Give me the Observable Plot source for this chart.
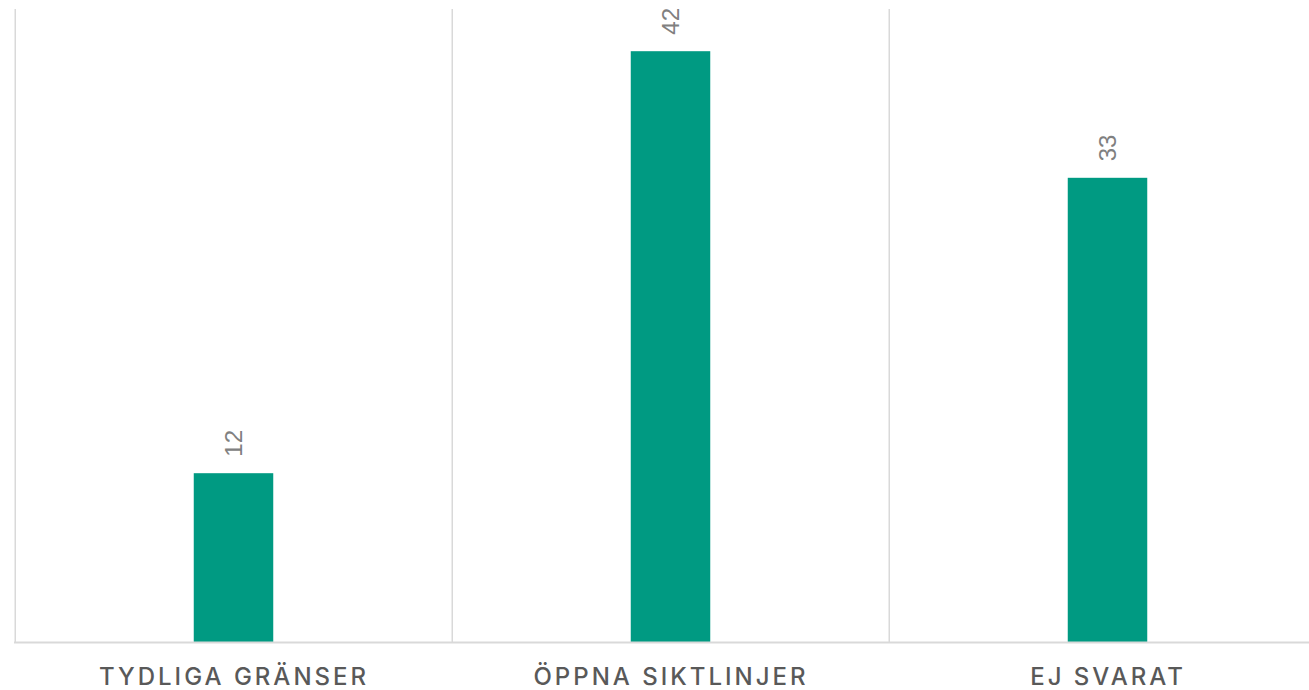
<!DOCTYPE html>
<html>
<head>
<meta charset="utf-8">
<script src="https://cdn.jsdelivr.net/npm/d3@7"></script>
<script src="https://cdn.jsdelivr.net/npm/@observablehq/plot@0.6"></script>
<style>
  html, body { margin: 0; padding: 0; background: #fff; overflow: hidden; }
  #chart svg { overflow: hidden; }
</style>
</head>
<body>
<div id="chart"></div>
<script>
const categories = ["TYDLIGA GRÄNSER", "ÖPPNA SIKTLINJER", "EJ SVARAT"];
const values = [12, 42, 33];

const data = categories.map((c, i) => ({category: c, value: values[i]}));

const W = 1309, H = 690;
const x0 = 14, x1 = 1326.5;
const step = (x1 - x0) / categories.length;
const barW = 80;
const inset = (step - barW) / 2;

const chart = Plot.plot({
  width: W,
  height: H,
  marginTop: 9,
  marginBottom: 48,
  marginLeft: 14,
  marginRight: 0,
  x: {type: "band", domain: categories, range: [x0, x1], padding: 0},
  y: {domain: [0, 45], axis: null},
  style: {background: "#fff", overflow: "hidden"},
  marks: [
    Plot.ruleX(categories, {x: d => d, dx: -step / 2, stroke: "#d9d9d9", strokeWidth: 1.5}),
    Plot.barY(data, {x: "category", y: "value", fill: "#009a82", insetLeft: inset, insetRight: inset}),
    Plot.ruleY([0], {stroke: "#d9d9d9", strokeWidth: 2}),
    Plot.text(data, {
      x: "category", y: "value", text: d => String(d.value),
      rotate: -90, textAnchor: "start", dy: -17,
      fill: "#808080", fontSize: 24, fontFamily: "Liberation Sans, Arial, sans-serif"
    }),
    Plot.axisX({
      tickSize: 0, tickPadding: 25, fontSize: 24, fill: "#595959", fontWeight: 500,
      fontFamily: "Inter, sans-serif", label: null
    })
  ]
});
chart.querySelectorAll("[aria-label='x-axis tick label'] text, g[aria-label='x-axis tick label'] text").forEach(t => {
  t.style.letterSpacing = "3px";
});
document.getElementById("chart").appendChild(chart);
</script>
</body>
</html>
